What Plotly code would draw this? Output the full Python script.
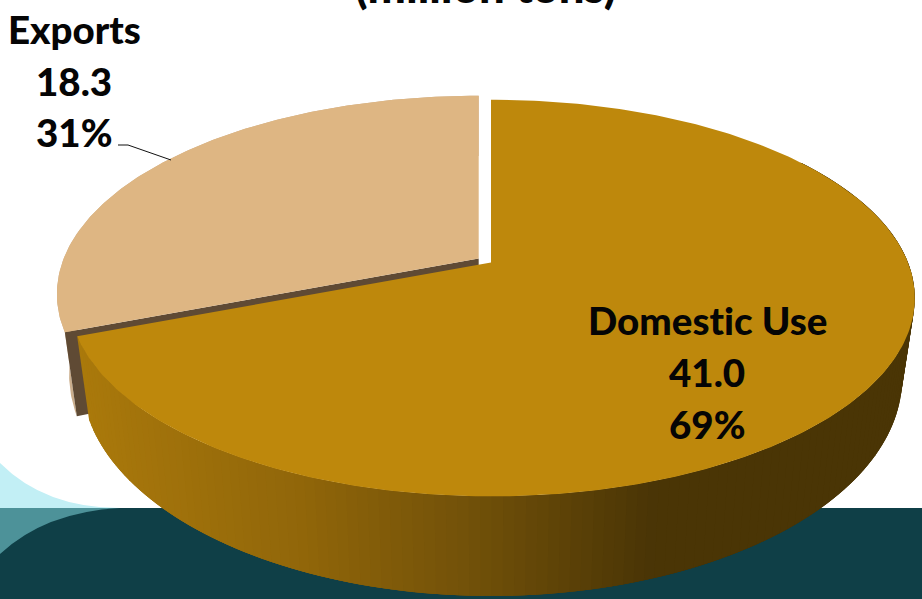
import numpy as np
import plotly.graph_objects as go

# Production split, million tons
categories = ["Domestic Use", "Exports"]
values = [41.0, 18.3]
title_text = "(million tons)"

COL_DOMESTIC = "#BE880C"
COL_EXPORTS = "#DEB683"
COL_CUT = "#5F4A34"
COL_EXPORT_WALL = "#CBAE8C"
NO_LIGATURES = '<span style="font-variant-ligatures:none">%s</span>'

# Projection of the disc: a circle seen in perspective, top and bottom faces
CX = 491.0
TOP = dict(cy=262.5, rx=417.0, rx_left=415.0, ry=192.0, k=0.179)
BOTTOM = dict(cy=339.0, rx=404.5, rx_left=403.0, ry=211.0, k=0.179)
EXPLODE = (-12.3, -4.0)


def project(theta_deg, face, shift=(0.0, 0.0)):
    t = np.radians(theta_deg)
    u, v = np.sin(t), -np.cos(t)
    d = 1 - face["k"] * v
    rx = np.where(u < 0, face["rx_left"], face["rx"])
    return CX + rx * u / d + shift[0], face["cy"] + face["ry"] * v / d + shift[1]


def apex(face, shift=(0.0, 0.0)):
    return CX + shift[0], face["cy"] + shift[1]


def poly(fig, xs, ys, color, width=0.0):
    fig.add_trace(go.Scatter(
        x=list(xs), y=list(ys), mode="lines", fill="toself", fillcolor=color,
        line=dict(color=color, width=width), hoverinfo="skip", showlegend=False,
    ))


def mix(stops, pos):
    xs = [s[0] for s in stops]
    return "rgb(%d,%d,%d)" % tuple(
        np.interp(pos, xs, [s[1][i] for s in stops]) for i in range(3)
    )


total = sum(values)
sweep = values[0] / total * 360.0

fig = go.Figure()

# Exploded Exports slice: outer wall, cut face, then top
arc = np.linspace(sweep, 360, 160)
xt, yt = project(arc, TOP, EXPLODE)
xb, yb = project(arc, BOTTOM, EXPLODE)
poly(fig, np.r_[xt, xb[::-1]], np.r_[yt, yb[::-1]], COL_EXPORT_WALL)

ax, ay = apex(TOP, EXPLODE)
bx, by = apex(BOTTOM, EXPLODE)
cx_t, cy_t = project(sweep, TOP, EXPLODE)
cx_b, cy_b = project(sweep, BOTTOM, EXPLODE)
poly(fig, [ax, cx_t, cx_b, bx], [ay, cy_t, cy_b, by], COL_CUT)
poly(fig, np.r_[ax, xt], np.r_[ay, yt], COL_EXPORTS)

# Domestic slice wall, shaded in overlapping strips painted from left to right
shade = [(85, (171, 122, 12)), (300, (146, 103, 10)), (480, (112, 80, 9)),
         (650, (74, 53, 6)), (920, (74, 53, 5))]
edges = np.linspace(sweep, 55, 150)
for i in range(len(edges) - 1):
    seg = edges[i:min(i + 4, len(edges))]
    xa, ya = project(seg, TOP)
    xc, yc = project(seg, BOTTOM)
    poly(fig, np.r_[xa, xc[::-1]], np.r_[ya, yc[::-1]],
         mix(shade, (xc[0] + project(edges[i + 1], BOTTOM)[0]) / 2))

# Domestic slice top
arc = np.linspace(0, sweep, 320)
xd, yd = project(arc, TOP)
ax, ay = apex(TOP)
poly(fig, np.r_[ax, xd], np.r_[ay, yd], COL_DOMESTIC)

# Leader line for the Exports label
fig.add_trace(go.Scatter(
    x=[118, 128, 171], y=[145, 145, 160], mode="lines",
    line=dict(color="#111111", width=1), hoverinfo="skip", showlegend=False,
))


def label(x, y, text, size=38.5):
    fig.add_annotation(
        x=x, y=y, text=NO_LIGATURES % text, showarrow=False,
        xanchor="center", yanchor="middle",
        font=dict(family="Lato, Carlito, sans-serif", size=size,
                  color="#050505", weight=900),
    )


def block(i, x, y_rows):
    pct = round(values[i] / total * 100)
    for y, text in zip(y_rows, [categories[i], f"{values[i]:.1f}", f"{pct}%"]):
        label(x, y, text)


block(0, 707, [320, 372, 424])
block(1, 74, [29, 81, 132])

fig.add_annotation(
    x=485, y=15, text=title_text, showarrow=False,
    xanchor="center", yanchor="bottom",
    font=dict(family="Lato, Carlito, sans-serif", size=45.5,
              color="#050505", weight=900),
)

# Slide decoration behind the chart
shapes = [
    dict(type="path", layer="below", line_width=0, fillcolor="#C2EFF5",
         path="M 0 463 Q 45 508 120 508 L 0 508 Z"),
    dict(type="rect", layer="below", line_width=0, fillcolor="#0F3F47",
         x0=0, x1=922, y0=508, y1=599),
    dict(type="path", layer="below", line_width=0, fillcolor="#4D9299",
         path="M 0 508 L 120 508 Q 45 512 0 554 Z"),
]

fig.update_layout(
    width=922, height=599, margin=dict(l=0, r=0, t=0, b=0),
    paper_bgcolor="white", plot_bgcolor="white", showlegend=False, shapes=shapes,
    xaxis=dict(range=[0, 922], visible=False, fixedrange=True),
    yaxis=dict(range=[599, 0], visible=False, fixedrange=True),
)
fig.write_html("out.html", config=dict(displayModeBar=False))
